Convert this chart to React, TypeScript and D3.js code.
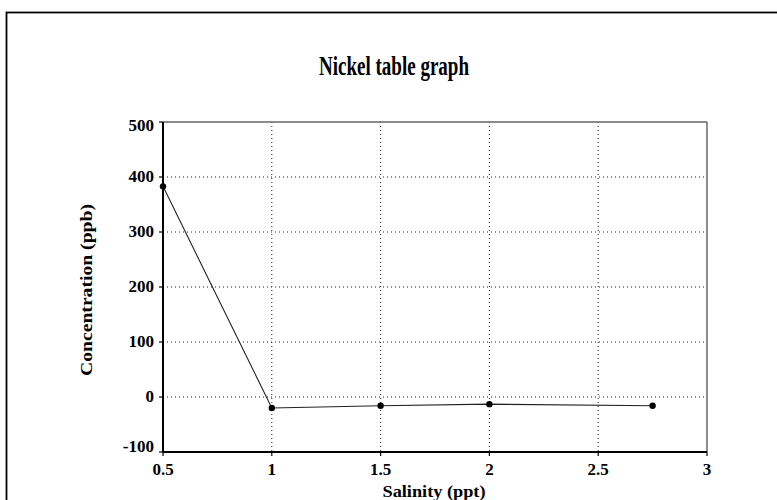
import React from "react";
import * as d3 from "d3";

const salinity = [0.5, 1, 1.5, 2, 2.75];
const concentration = [383, -20, -16, -13, -16];
const xTicks = [0.5, 1, 1.5, 2, 2.5, 3];
const yTicks = [-100, 0, 100, 200, 300, 400, 500];
const title = "Nickel table graph";
const xLabel = "Salinity (ppt)";
const yLabel = "Concentration (ppb)";

const W = 777;
const H = 500;
const plot = { left: 163, right: 707, top: 122, bottom: 452 };
const FONT = "'Liberation Serif', 'Times New Roman', serif";

export default function App() {
  const x = d3.scaleLinear().domain([0.5, 3]).range([plot.left, plot.right]);
  const y = d3.scaleLinear().domain([-100, 500]).range([plot.bottom, plot.top]);
  const line = d3
    .line<number>()
    .x((_, i) => x(salinity[i]))
    .y((d) => y(d));

  const yLabelY = (v: number) => {
    if (v === 500) return y(v) + 5;
    if (v === -100) return y(v) - 4;
    return y(v) + 1;
  };

  return (
    <svg
      width={W}
      height={H}
      style={{ position: "absolute", left: 0, top: 0, background: "#fff" }}
      fontFamily={FONT}
    >
      <rect x={0} y={0} width={W} height={H} fill="#fff" />
      {/* outer border */}
      <rect x={6.5} y={12.5} width={W + 20} height={H + 20} fill="none" stroke="#000" strokeWidth={1.8} />

      <text
        x={394}
        y={75}
        textAnchor="middle"
        fontSize={27}
        fontWeight="bold"
        textLength={150}
        lengthAdjust="spacingAndGlyphs"
      >
        {title}
      </text>

      {/* grid */}
      {xTicks
        .filter((t) => t > 0.5 && t < 3)
        .map((t) => (
          <line
            key={"gx" + t}
            x1={x(t)}
            x2={x(t)}
            y1={plot.top}
            y2={plot.bottom}
            stroke="#222"
            strokeWidth={1}
            strokeDasharray="1,3"
          />
        ))}
      {yTicks
        .filter((t) => t > -100 && t < 500)
        .map((t) => (
          <line
            key={"gy" + t}
            x1={plot.left}
            x2={plot.right}
            y1={y(t)}
            y2={y(t)}
            stroke="#222"
            strokeWidth={1}
            strokeDasharray="1,3"
          />
        ))}

      {/* frame */}
      <line x1={plot.left} x2={plot.right} y1={plot.top} y2={plot.top} stroke="#666" strokeWidth={1.5} />
      <line x1={plot.right} x2={plot.right} y1={plot.top} y2={plot.bottom} stroke="#666" strokeWidth={1.5} />
      <line x1={plot.left} x2={plot.left} y1={plot.top} y2={plot.bottom} stroke="#000" strokeWidth={2} />
      <line x1={plot.left} x2={plot.right} y1={plot.bottom} y2={plot.bottom} stroke="#000" strokeWidth={2} />

      {/* x ticks */}
      {xTicks.map((t) => (
        <g key={"xt" + t}>
          <line x1={x(t)} x2={x(t)} y1={plot.bottom} y2={plot.bottom + 4} stroke="#000" strokeWidth={1.2} />
          <text x={x(t)} y={475} textAnchor="middle" fontSize={17} fontWeight="bold">
            {String(t)}
          </text>
        </g>
      ))}

      {/* y ticks */}
      {yTicks.map((t) => (
        <g key={"yt" + t}>
          <line x1={plot.left - 4} x2={plot.left} y1={y(t)} y2={y(t)} stroke="#000" strokeWidth={1.2} />
          <text
            x={154}
            y={yLabelY(t)}
            textAnchor="end"
            dominantBaseline="middle"
            fontSize={17}
            fontWeight="bold"
          >
            {String(t)}
          </text>
        </g>
      ))}

      {/* data */}
      <path d={line(concentration) || ""} fill="none" stroke="#222" strokeWidth={1.1} />
      {concentration.map((v, i) => (
        <circle key={"p" + i} cx={x(salinity[i])} cy={y(v)} r={3.2} fill="#000" />
      ))}

      {/* axis labels */}
      <text
        x={434}
        y={497}
        textAnchor="middle"
        fontSize={16}
        fontWeight="bold"
        textLength={103}
        lengthAdjust="spacingAndGlyphs"
      >
        {xLabel}
      </text>
      <text
        transform={`translate(92, ${(plot.top + plot.bottom) / 2 + 3}) rotate(-90)`}
        textAnchor="middle"
        fontSize={16}
        fontWeight="bold"
        textLength={172}
        lengthAdjust="spacingAndGlyphs"
      >
        {yLabel}
      </text>
    </svg>
  );
}
